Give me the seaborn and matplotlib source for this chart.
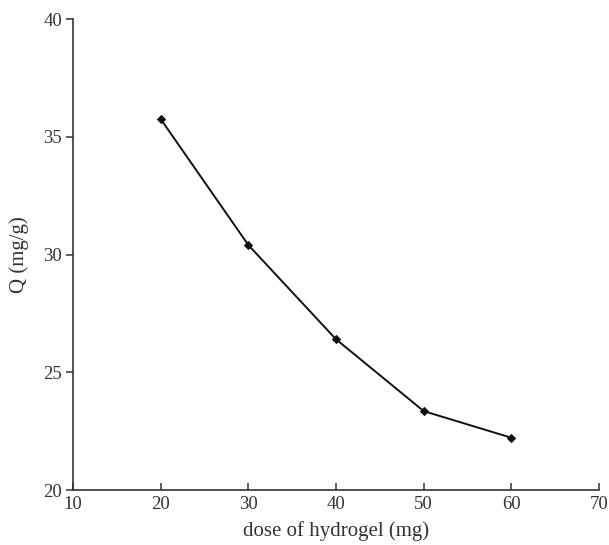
import matplotlib
matplotlib.use("Agg")
import matplotlib.pyplot as plt
import seaborn as sns
import pandas as pd

dose = [20, 30, 40, 50, 60]
q_values = [35.75, 30.4, 26.4, 23.35, 22.22]
x_ticks = [10, 20, 30, 40, 50, 60, 70]
y_ticks = [20, 25, 30, 35, 40]

sns.set_style("ticks")
plt.rcParams['font.family'] = ['Liberation Serif', 'DejaVu Serif']

df = pd.DataFrame({"dose": dose, "Q": q_values})

fig = plt.figure(figsize=(6.09, 5.45), dpi=100)
ax = fig.add_axes([0.12, 0.1009, 0.8636, 0.8642])
sns.lineplot(data=df, x="dose", y="Q", ax=ax, color="#111111", linewidth=1.4,
             marker="D", markersize=4.5, markeredgecolor="#111111", markerfacecolor="#111111")

ax.set_xlim(10, 70)
ax.set_ylim(20, 40)
ax.set_xticks(x_ticks)
ax.set_yticks(y_ticks)
ax.set_xticklabels([str(v) for v in x_ticks])
ax.set_yticklabels([str(v) for v in y_ticks])
for s in ["top", "right"]:
    ax.spines[s].set_visible(False)
for s in ["left", "bottom"]:
    ax.spines[s].set_color("#333333")
    ax.spines[s].set_linewidth(1.2)
ax.tick_params(axis="x", direction="in", length=5, width=1.1, colors="#333333",
               labelsize=13.5, pad=4, labelcolor="#333333")
ax.tick_params(axis="y", direction="out", length=5, width=1.1, colors="#333333",
               labelsize=13.5, pad=3, labelcolor="#333333")
ax.set_xlabel("dose of hydrogel (mg)", fontsize=15, color="#333333", labelpad=6)
ax.set_ylabel("Q (mg/g)", fontsize=15, color="#333333", labelpad=10)

fig.savefig("out.png", dpi=100)
